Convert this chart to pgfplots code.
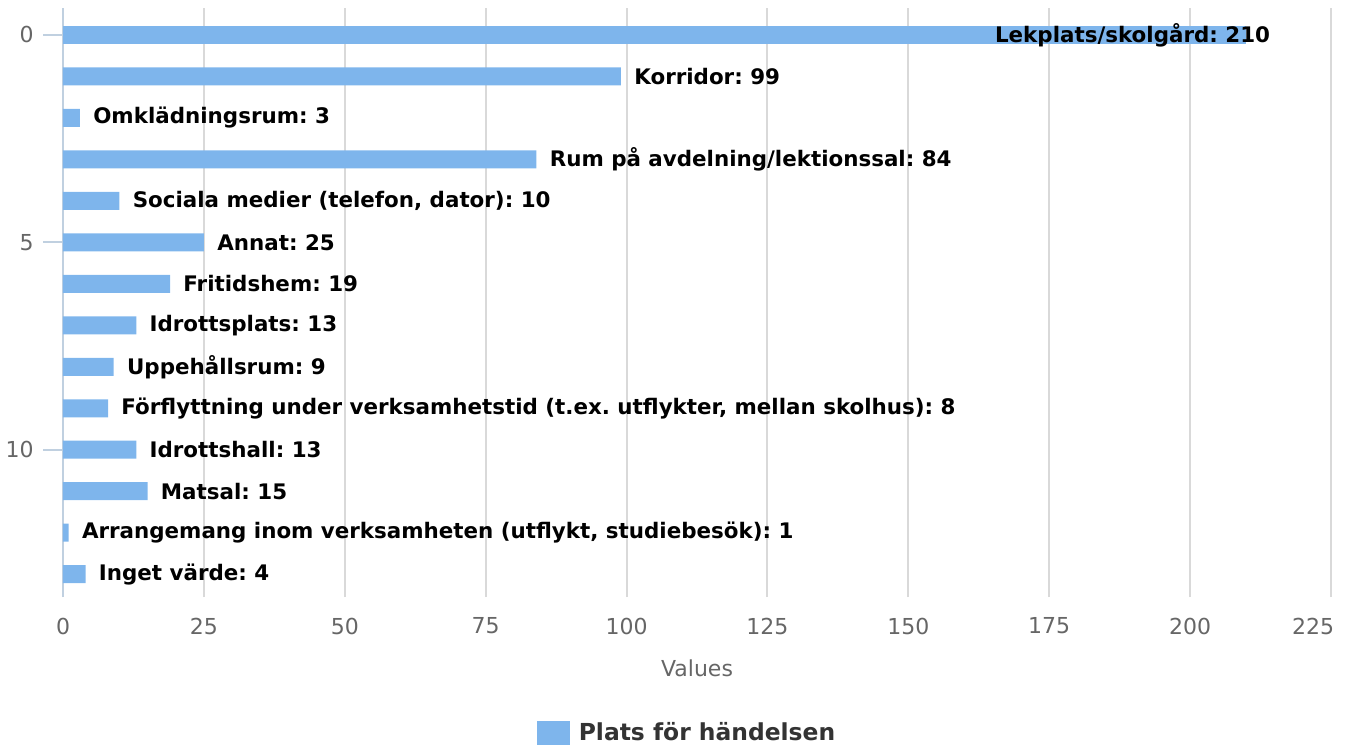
\documentclass[border=0pt]{standalone}
\usepackage{pgfplots}
\usepackage{pgfplotstable}
\pgfplotsset{compat=1.18}
\usepackage{fontspec}
\setmainfont{DejaVu Sans}
\frenchspacing

\definecolor{barblue}{RGB}{126,181,236}
\definecolor{gridc}{RGB}{217,217,217}
\definecolor{axisc}{RGB}{192,208,224}
\definecolor{tickc}{RGB}{102,102,102}
\definecolor{legc}{RGB}{51,51,51}

% category index is plotted negative so that 0 sits on top
\pgfplotstableread[col sep=semicolon]{
y;v;lbl
-1;99;Korridor: 99
-2;3;Omklädningsrum: 3
-3;84;Rum på avdelning/lektionssal: 84
-4;10;Sociala medier (telefon, dator): 10
-5;25;Annat: 25
-6;19;Fritidshem: 19
-7;13;Idrottsplats: 13
-8;9;Uppehållsrum: 9
-9;8;Förflyttning under verksamhetstid (t.ex. utflykter, mellan skolhus): 8
-10;13;Idrottshall: 13
-11;15;Matsal: 15
-12;1;Arrangemang inom verksamheten (utflykt, studiebesök): 1
-13;4;Inget värde: 4
}\places

\pgfplotstableread[col sep=semicolon]{
y;v;lbl
0;210;Lekplats/skolgård: 210
}\topplace

\begin{document}
\begin{tikzpicture}
\begin{axis}[
    name=ax,
    scale only axis,
    width=634pt, height=294.5pt,
    xmin=0, xmax=225,
    ymin=-13.55, ymax=0.65,
    xtick={0,25,...,200},
    extra x ticks={225},
    extra x tick style={grid=major, xticklabel style={xshift=-9pt}},
    ytick={-10,-5,0},
    yticklabels={10,5,0},
    axis lines*=left,
    axis line style={-},
    x axis line style={draw=none},
    y axis line style={draw=axisc, line width=1pt},
    xmajorgrids,
    major grid style={draw=gridc, line width=1pt},
    tick align=outside,
    major tick length=10pt,
    xtick style={draw=none},
    ytick style={draw=axisc, line width=1pt},
    /pgf/number format/assume math mode=true,
    tick label style={font=\fontsize{11}{13}\selectfont, text=tickc, inner sep=0pt},
    xticklabel style={anchor=center, yshift=-4.5pt},
    yticklabel style={anchor=east, xshift=-4.5pt},
    xlabel={Values},
    xlabel style={at={(axis description cs:0.5,0)}, anchor=center, yshift=-35.5pt,
        font=\fontsize{11}{13}\selectfont, text=tickc},
    legend style={at={(0.4929,-0.2309)}, anchor=center, draw=none,
        font=\bfseries\fontsize{11.7}{14}\selectfont, text=legc,
        /tikz/every odd column/.append style={column sep=2.5pt}},
    legend image code/.code={\fill[barblue] (0pt,-6pt) rectangle (16.5pt,6pt);},
    clip=false,
]
\addplot[xbar, bar shift=0pt, bar width=0.434, fill=barblue, draw=none,
    nodes near coords, point meta=explicit symbolic,
    every node near coord/.append style={anchor=west, xshift=6.5pt, inner sep=0pt,
        font=\bfseries\fontsize{10.7}{12}\selectfont, text=black}]
    table[x=v, y=y, meta=lbl] {\places};
\addlegendentry{Plats för händelsen}
\addplot[xbar, bar shift=0pt, bar width=0.434, fill=barblue, draw=none, forget plot,
    nodes near coords, point meta=explicit symbolic,
    every node near coord/.append style={anchor=east, xshift=12pt, inner sep=0pt,
        font=\bfseries\fontsize{10.7}{12}\selectfont, text=black}]
    table[x=v, y=y, meta=lbl] {\topplace};
\end{axis}
\pgfresetboundingbox
\path[use as bounding box] ([xshift=-31.5pt,yshift=-76pt]ax.south west)
    rectangle ([xshift=9pt,yshift=4pt]ax.north east);
\end{tikzpicture}
\end{document}
